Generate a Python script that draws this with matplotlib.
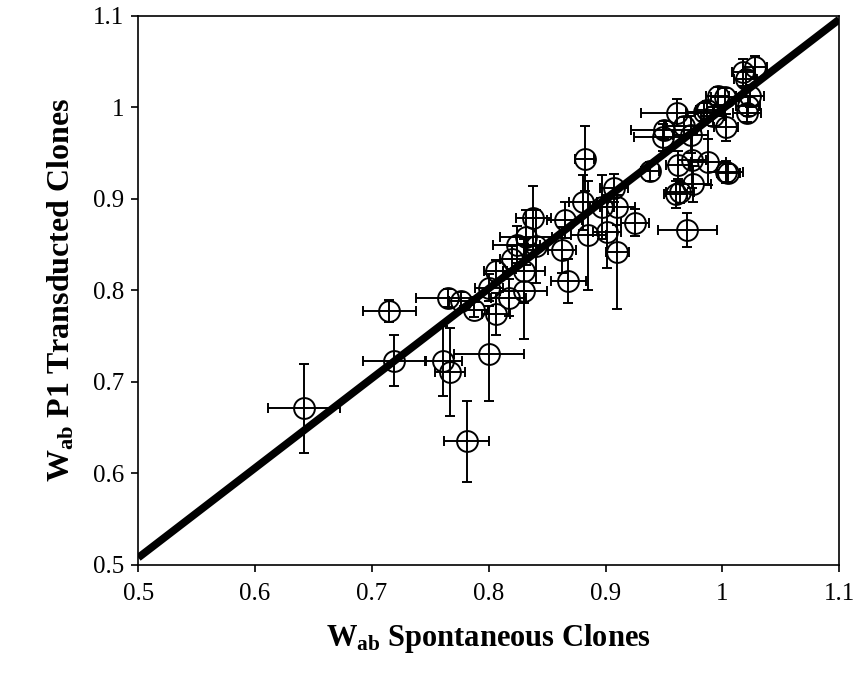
import matplotlib
matplotlib.use("Agg")
import matplotlib.pyplot as plt

# W_ab values: spontaneous (x) vs P1 transducted (y)
W_SPONT = [0.642, 0.715, 0.719, 0.765, 0.776, 0.787, 0.761, 0.767, 0.781, 0.800,
           0.800, 0.806, 0.806, 0.817, 0.820, 0.824, 0.830, 0.830, 0.832, 0.838,
           0.840, 0.863, 0.865, 0.868, 0.881, 0.882, 0.885, 0.897, 0.901, 0.907,
           0.910, 0.910, 0.925, 0.938, 0.949, 0.950, 0.961, 0.962, 0.960, 0.964,
           0.967, 0.970, 0.973, 0.974, 0.975, 0.984, 0.988, 0.987, 0.992, 0.996,
           1.002, 1.003, 1.003, 1.005, 1.018, 1.028, 1.024, 1.021, 1.022, 1.020]
W_P1 = [0.671, 0.777, 0.723, 0.792, 0.788, 0.779, 0.723, 0.711, 0.635, 0.731,
        0.803, 0.774, 0.821, 0.792, 0.834, 0.850, 0.821, 0.799, 0.858, 0.879,
        0.848, 0.844, 0.877, 0.810, 0.896, 0.944, 0.860, 0.891, 0.864, 0.912,
        0.842, 0.891, 0.874, 0.930, 0.967, 0.975, 0.994, 0.937, 0.905, 0.907,
        0.979, 0.866, 0.970, 0.942, 0.916, 0.995, 0.940, 0.997, 0.990, 1.012,
        1.011, 0.978, 0.929, 0.928, 1.038, 1.044, 1.012, 0.994, 1.001, 1.031]
ERR_SPONT = [0.031, 0.023, 0.027, 0.027, 0.010, 0.012, 0.016, 0.013, 0.019, 0.030,
             0.012, 0.012, 0.010, 0.015, 0.010, 0.020, 0.018, 0.020, 0.022, 0.015,
             0.010, 0.012, 0.015, 0.015, 0.012, 0.008, 0.015, 0.010, 0.012, 0.012,
             0.010, 0.015, 0.012, 0.008, 0.025, 0.028, 0.031, 0.010, 0.010, 0.012,
             0.015, 0.025, 0.015, 0.012, 0.015, 0.015, 0.015, 0.010, 0.010, 0.010,
             0.012, 0.010, 0.015, 0.010, 0.010, 0.010, 0.012, 0.012, 0.010, 0.010]
ERR_P1 = [0.049, 0.012, 0.028, 0.010, 0.010, 0.008, 0.038, 0.048, 0.044, 0.052,
          0.015, 0.023, 0.012, 0.020, 0.015, 0.020, 0.035, 0.052, 0.030, 0.035,
          0.040, 0.025, 0.020, 0.024, 0.030, 0.036, 0.060, 0.035, 0.040, 0.015,
          0.062, 0.020, 0.015, 0.010, 0.015, 0.010, 0.015, 0.015, 0.015, 0.012,
          0.010, 0.019, 0.020, 0.030, 0.020, 0.010, 0.025, 0.010, 0.010, 0.010,
          0.010, 0.015, 0.012, 0.010, 0.015, 0.012, 0.012, 0.010, 0.010, 0.010]

# trend line end points
LINE_X = [0.5, 1.1]
LINE_Y = [0.508, 1.096]

plt.rcParams["font.family"] = ["Liberation Serif", "DejaVu Serif"]
plt.rcParams["mathtext.fontset"] = "custom"
plt.rcParams["mathtext.rm"] = "Liberation Serif:bold"
plt.rcParams["mathtext.bf"] = "Liberation Serif:bold"

fig = plt.figure(figsize=(8.59, 6.84), dpi=100)
ax = fig.add_axes([0.161, 0.174, 0.816, 0.803])

ax.errorbar(W_SPONT, W_P1, xerr=ERR_SPONT, yerr=ERR_P1, fmt="o",
            markersize=15, markerfacecolor="none", markeredgecolor="black",
            markeredgewidth=1.4, ecolor="black", elinewidth=1.4,
            capsize=3.5, capthick=1.4, zorder=2)
ax.plot(LINE_X, LINE_Y, color="black", linewidth=5.5, solid_capstyle="butt", zorder=3)

ax.set_xlim(0.5, 1.1)
ax.set_ylim(0.5, 1.1)
ticks = [0.5, 0.6, 0.7, 0.8, 0.9, 1.0, 1.1]
labels = ["0.5", "0.6", "0.7", "0.8", "0.9", "1", "1.1"]
ax.set_xticks(ticks, labels)
ax.set_yticks(ticks, labels)
ax.tick_params(direction="out", length=5, width=1.2, labelsize=18, pad=5)
ax.tick_params(axis="x", pad=8)
for s in ax.spines.values():
    s.set_linewidth(1.2)

ax.set_xlabel(r"$\mathrm{W_{ab}}$ Spontaneous Clones", fontsize=22,
              fontweight="bold", labelpad=12)
ax.set_ylabel(r"$\mathrm{W_{ab}}$ P1 Transducted Clones", fontsize=23,
              fontweight="bold", labelpad=12)

plt.savefig("out.png", dpi=100)
